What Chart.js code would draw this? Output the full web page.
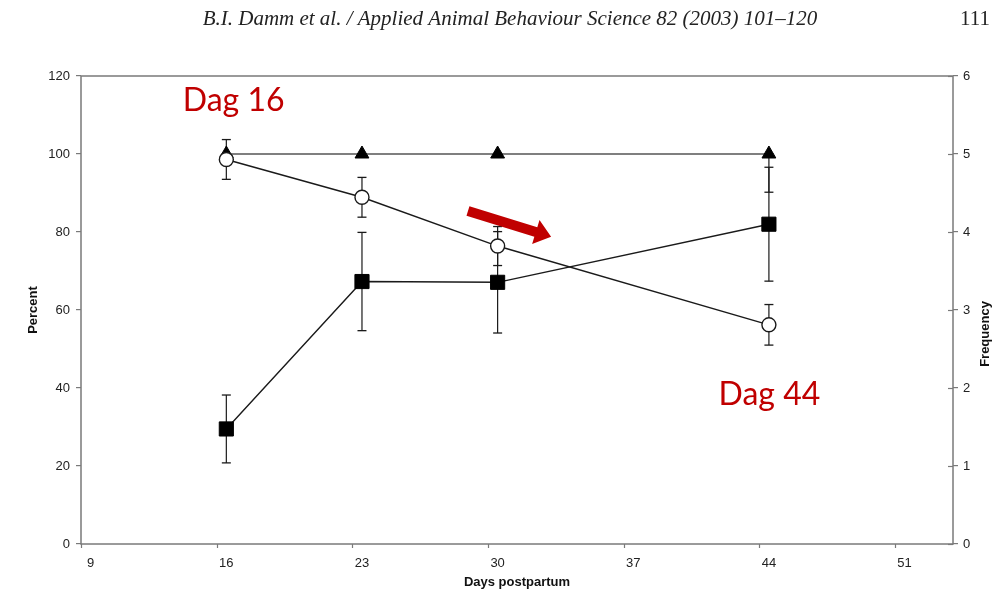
<!DOCTYPE html>
<html>
<head>
<meta charset="utf-8">
<script src="https://cdn.jsdelivr.net/npm/chart.js@4/dist/chart.umd.min.js"></script>
<style>
  html, body { margin: 0; padding: 0; background: #fff; }
  #wrap { width: 1007px; height: 595px; position: relative; }
</style>
</head>
<body>
<div id="wrap"><canvas id="dammChart"></canvas></div>
<script>
// data
const days = [16, 23, 30, 44];
const xTicks = [9, 16, 23, 30, 37, 44, 51];
const circlePct = [98.6, 88.9, 76.4, 56.2];
const circleErr = [5.1, 5.1, 5.0, 5.2];
const squarePct = [29.5, 67.3, 67.1, 82.0];
const squareErr = [8.7, 12.6, 13.0, 14.6];
const triangleFreq = [5, 5, 5, 5];
const triangleErrLow = [0, 0, 0, 0.49];

// annotations (data units)
const notes = [
  { text: 'Dag 16', x: 13.75, y: 111 },
  { text: 'Dag 44', x: 41.4, y: 35.6 }
];
const arrow = { from: [28.47, 85.4], to: [32.76, 78.8] };

const pts = (ys) => days.map((d, i) => ({ x: d, y: ys[i] }));

// error bar segments, null between so they don't join
function errSegs(ys, lo, hi) {
  const out = [];
  days.forEach((d, i) => {
    if (lo[i] === 0 && hi[i] === 0) return;
    out.push({ x: d, y: ys[i] - lo[i] });
    out.push({ x: d, y: ys[i] + hi[i] });
    out.push({ x: d, y: null });
  });
  return out;
}

const ink = '#1a1a1a';
const axisGray = '#7a7a7a';

const errStyle = {
  showLine: true, spanGaps: false,
  borderColor: ink, borderWidth: 1.2,
  pointStyle: 'line', pointRadius: 4.5, pointHoverRadius: 4.5,
  pointBorderColor: ink, pointBorderWidth: 1.3
};

const extras = {
  id: 'extras',
  afterDraw(chart) {
    const c = chart.ctx, a = chart.chartArea;
    const x = chart.scales.x, y = chart.scales.y, y1 = chart.scales.y1;
    c.save();
    // frame
    c.strokeStyle = axisGray; c.lineWidth = 1.5;
    c.strokeRect(a.left, a.top, a.right - a.left, a.bottom - a.top);
    // bottom ticks (slightly left of labels, like the original)
    c.lineWidth = 1.2;
    xTicks.forEach(v => {
      const px = Math.round(x.getPixelForValue(v - 0.5)) + 0.5;
      c.beginPath(); c.moveTo(px, a.bottom); c.lineTo(px, a.bottom + 4); c.stroke();
    });
    // inner half of right ticks
    y1.ticks.forEach(t => {
      const py = Math.round(y1.getPixelForValue(t.value)) + 0.5;
      c.beginPath(); c.moveTo(a.right - 5, py); c.lineTo(a.right, py); c.stroke();
    });
    // right axis title, reading upward
    c.fillStyle = '#111';
    c.font = 'bold 13px "Liberation Sans", Arial, sans-serif';
    c.textAlign = 'center'; c.textBaseline = 'middle';
    c.translate(985, (a.top + a.bottom) / 2 + 24);
    c.rotate(-Math.PI / 2);
    c.fillText('Frequency', 0, 0);
    c.restore();

    c.save();
    // page header
    c.fillStyle = '#222';
    c.font = 'italic 21px "Liberation Serif", "Times New Roman", serif';
    c.textBaseline = 'alphabetic'; c.textAlign = 'center';
    c.fillText('B.I. Damm et al. / Applied Animal Behaviour Science 82 (2003) 101\u2013120', 510, 25);
    c.font = '21px "Liberation Serif", "Times New Roman", serif';
    c.textAlign = 'right';
    c.fillText('111', 990, 25);

    // red notes
    c.fillStyle = '#c00000';
    c.font = '32px Lato, "Liberation Sans", sans-serif';
    c.textAlign = 'left';
    notes.forEach(n => c.fillText(n.text, x.getPixelForValue(n.x), y.getPixelForValue(n.y)));

    // red arrow
    const x0 = x.getPixelForValue(arrow.from[0]), y0 = y.getPixelForValue(arrow.from[1]);
    const x1 = x.getPixelForValue(arrow.to[0]), y1p = y.getPixelForValue(arrow.to[1]);
    const ang = Math.atan2(y1p - y0, x1 - x0);
    const len = Math.hypot(x1 - x0, y1p - y0);
    const shaft = 10, headW = 25, headL = 16;
    c.translate(x0, y0); c.rotate(ang);
    c.beginPath();
    c.moveTo(0, -shaft / 2);
    c.lineTo(len - headL, -shaft / 2);
    c.lineTo(len - headL, -headW / 2);
    c.lineTo(len, 0);
    c.lineTo(len - headL, headW / 2);
    c.lineTo(len - headL, shaft / 2);
    c.lineTo(0, shaft / 2);
    c.closePath();
    c.fill();
    c.restore();
  }
};

const tickFont = { family: '"Liberation Sans", Arial, sans-serif', size: 13 };

new Chart(document.getElementById('dammChart'), {
  type: 'scatter',
  data: {
    datasets: [
      { // open circles
        data: pts(circlePct), yAxisID: 'y', showLine: true,
        borderColor: ink, borderWidth: 1.4,
        pointStyle: 'circle', pointRadius: 7, pointHoverRadius: 7,
        pointBackgroundColor: '#fff', pointBorderColor: ink, pointBorderWidth: 1.4
      },
      { // filled squares
        data: pts(squarePct), yAxisID: 'y', showLine: true,
        borderColor: ink, borderWidth: 1.4,
        pointStyle: 'rect', pointRadius: 10, pointHoverRadius: 10,
        pointBackgroundColor: '#000', pointBorderColor: '#000', pointBorderWidth: 1
      },
      { // filled triangles (frequency)
        data: pts(triangleFreq), yAxisID: 'y1', showLine: true,
        borderColor: '#555', borderWidth: 1.4,
        pointStyle: 'triangle', pointRadius: 8, pointHoverRadius: 8,
        pointBackgroundColor: '#000', pointBorderColor: '#000', pointBorderWidth: 1
      },
      Object.assign({ data: errSegs(circlePct, circleErr, circleErr), yAxisID: 'y' }, errStyle),
      Object.assign({ data: errSegs(squarePct, squareErr, squareErr), yAxisID: 'y' }, errStyle),
      Object.assign({ data: errSegs(triangleFreq, triangleErrLow, [0, 0, 0, 0]), yAxisID: 'y1' }, errStyle)
    ]
  },
  options: {
    responsive: true,
    maintainAspectRatio: false,
    animation: false,
    layout: { padding: { top: 76, left: 0, right: 0, bottom: 0 } },
    elements: { line: { tension: 0 } },
    plugins: { legend: { display: false }, tooltip: { enabled: false } },
    scales: {
      x: {
        type: 'linear', min: 8.5, max: 53.5,
        afterBuildTicks: s => { s.ticks = xTicks.map(v => ({ value: v })); },
        afterFit: s => { s.height = 51; },
        grid: { display: false, drawTicks: false },
        border: { display: false },
        ticks: { font: tickFont, color: '#222', padding: 12 },
        title: { display: true, text: 'Days postpartum', color: '#111',
                 font: { family: '"Liberation Sans", Arial, sans-serif', size: 13, weight: 'bold' },
                 padding: { top: 0, bottom: 5 } }
      },
      y: {
        position: 'left', min: 0, max: 120,
        afterFit: s => { s.width = 81; },
        ticks: { stepSize: 20, font: tickFont, color: '#222', padding: 6 },
        grid: { drawOnChartArea: false, tickLength: 5, color: axisGray, lineWidth: 1.2 },
        border: { display: false },
        title: { display: true, text: 'Percent', color: '#111',
                 font: { family: '"Liberation Sans", Arial, sans-serif', size: 13, weight: 'bold' },
                 padding: { top: 26, bottom: 0 } }
      },
      y1: {
        position: 'right', min: 0, max: 6,
        afterFit: s => { s.width = 54; },
        ticks: { stepSize: 1, font: tickFont, color: '#222', padding: 5 },
        grid: { drawOnChartArea: false, tickLength: 5, color: axisGray, lineWidth: 1.2 },
        border: { display: false }
      }
    }
  },
  plugins: [extras]
});
</script>
</body>
</html>
